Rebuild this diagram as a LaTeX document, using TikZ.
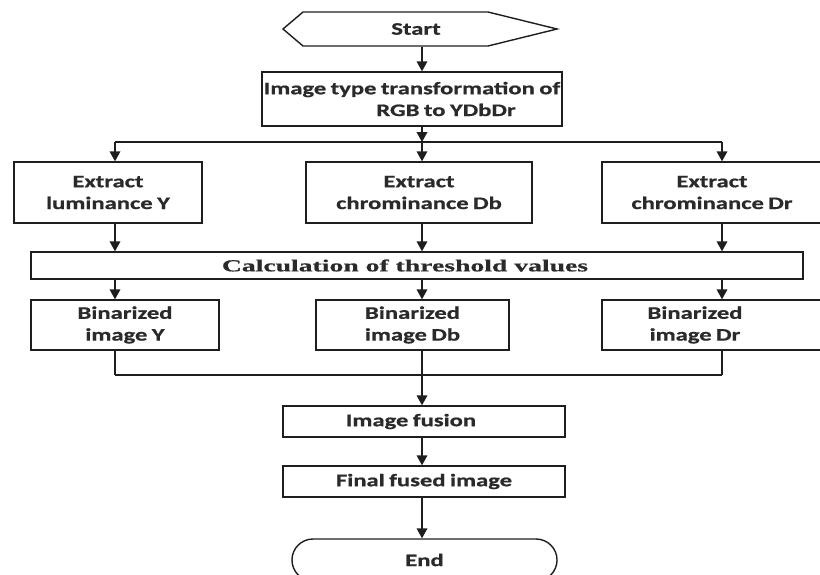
\documentclass[tikz,border=0pt]{standalone}
\usepackage{fontspec}
\usetikzlibrary{arrows.meta,shapes.misc}
\newfontfamily\boxfont[FakeStretch=1.40,WordSpace=0.8,BoldFeatures={FakeBold=0.8}]{Carlito}
\newfontfamily\calcfont[FakeStretch=1.64,BoldFeatures={FakeBold=0.6}]{Liberation Serif}
\definecolor{txtgray}{HTML}{2A2A2A}
\definecolor{linegray}{HTML}{1E1E1E}

\tikzset{%
box/.style={draw=linegray, line width=1pt, rectangle, inner sep=0pt,
  align=center, text=txtgray, font=\boxfont\fontsize{12.5}{15.5}\selectfont\bfseries},
arr/.style={draw=linegray, line width=1pt, -{Triangle[length=7pt,width=7.5pt]}},
con/.style={draw=linegray, line width=1pt},
}

\begin{document}
\begin{tikzpicture}[%
x=0.025cm, y=-0.025cm,
]
\clip (0,0) rectangle (820,574);
%% start
\draw[con] (283,29) -- (303,12) -- (488,12) -- (557,29) -- (488,46) -- (303,46) -- cycle;
\node[box, draw=none, minimum height=0.85cm] (start) at (416,29) {Start};
%% boxes
\node[box, minimum width=7.5cm, minimum height=1.35cm] (trans) at (412,99)
  {Image type transformation of\\\hspace*{1.7cm}RGB to YDbDr};
\node[box, minimum width=4.7cm, minimum height=1.525cm] (exY) at (108,192.5) {Extract\\luminance Y};
\node[box, minimum width=5.65cm, minimum height=1.525cm] (exDb) at (419,192.5) {Extract\\chrominance Db};
\node[box, minimum width=5.75cm, minimum height=1.525cm] (exDr) at (717,192.5)
  {\hspace*{-0.25cm}Extract\\\hspace*{-0.25cm}chrominance Dr};
\node[box, minimum width=19.3cm, minimum height=0.675cm,
  font=\calcfont\fontsize{12}{14}\selectfont\bfseries] (calc) at (417,265.5)
  {\hspace*{-0.6cm}Calculation of threshold values};
\node[box, minimum width=4.7cm, minimum height=1.25cm] (binY) at (125,325) {Binarized\\image Y};
\node[box, minimum width=4.825cm, minimum height=1.25cm] (binDb) at (412.5,325) {Binarized\\image Db};
\node[box, minimum width=5.75cm, minimum height=1.25cm] (binDr) at (717,325)
  {\hspace*{-1.1cm}Binarized\\\hspace*{-1.1cm}image Dr};
\node[box, minimum width=7.05cm, minimum height=0.775cm] (fusion) at (424,421.5) {\hspace*{-0.65cm}Image fusion};
\node[box, minimum width=7.05cm, minimum height=0.775cm] (final) at (424,481.5) {Final fused image};
\node[box, rounded rectangle, minimum width=6.625cm, minimum height=1.05cm] (end) at (424.5,560) {End};
%% columns
\coordinate (colY) at (115,0);
\coordinate (colDb) at (422,0);
\coordinate (colDr) at (722,0);
\coordinate (split) at (422,142);
\coordinate (join) at (422,375);
%% connectors
\draw[arr] (colDb |- start.south) -- (colDb |- trans.north);
\draw[arr] (colDb |- trans.south) -- (split);
\draw[con] (colY |- split) -- (colDr |- split);
\foreach \b/\c in {exY/colY, exDb/colDb, exDr/colDr}
  \draw[arr] (\c |- split) -- (\c |- \b.north);
\foreach \b/\c in {exY/colY, exDb/colDb, exDr/colDr}
  \draw[arr] (\c |- \b.south) -- (\c |- calc.north);
\foreach \b/\c in {binY/colY, binDb/colDb, binDr/colDr}
  \draw[arr] (\c |- calc.south) -- (\c |- \b.north);
\foreach \b/\c in {binY/colY, binDb/colDb, binDr/colDr}
  \draw[con] (\c |- \b.south) -- (\c |- join);
\draw[con] (colY |- join) -- (colDr |- join);
\draw[arr] (join) -- (colDb |- fusion.north);
\draw[arr] (colDb |- fusion.south) -- (colDb |- final.north);
\draw[arr] (colDb |- final.south) -- (colDb |- end.north);
\end{tikzpicture}
\end{document}
